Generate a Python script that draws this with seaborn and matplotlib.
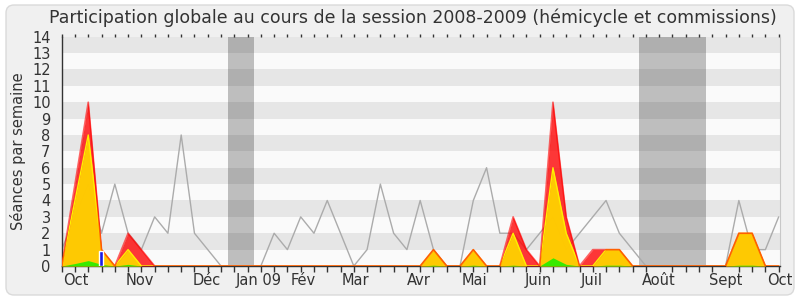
import numpy as np
import matplotlib
matplotlib.use("Agg")
import matplotlib.pyplot as plt
from matplotlib.patches import FancyBboxPatch
import seaborn as sns
import pandas as pd

# ---- data (one value per week, session 2008-2009) ----
weeks = list(range(55))
median_all = [1, 3, 5, 2, 5, 2, 1, 3, 2, 8, 2, 1, 0, 0, 0, 0, 2, 1, 3, 2,
              4, 2, 0, 1, 5, 2, 1, 4, 1, 0, 0, 4, 6, 2, 2, 1, 2, 3, 1, 2,
              3, 4, 2, 1, 0, 0, 0, 0, 0, 0, 0, 4, 1, 1, 3]
total = [0, 5, 10, 1, 0, 2, 1, 0, 0, 0, 0, 0, 0, 0, 0, 0, 0, 0, 0, 0,
         0, 0, 0, 0, 0, 0, 0, 0, 1, 0, 0, 1, 0, 0, 3, 1, 0, 10, 3, 0,
         1, 1, 1, 0, 0, 0, 0, 0, 0, 0, 0, 2, 2, 0, 0]
hemicycle = [0, 4, 8, 1, 0, 1, 0, 0, 0, 0, 0, 0, 0, 0, 0, 0, 0, 0, 0, 0,
             0, 0, 0, 0, 0, 0, 0, 0, 1, 0, 0, 1, 0, 0, 2, 0, 0, 6, 2, 0,
             0, 1, 1, 0, 0, 0, 0, 0, 0, 0, 0, 2, 2, 0, 0]
interventions = [0, 0.15, 0.33, 0.1, 0, 0.1, 0, 0, 0, 0, 0, 0, 0, 0, 0, 0, 0, 0, 0, 0,
                 0, 0, 0, 0, 0, 0, 0, 0, 0.05, 0, 0, 0.05, 0, 0, 0.05, 0, 0, 0.5, 0.1, 0,
                 0, 0.05, 0.05, 0, 0, 0, 0, 0, 0, 0, 0, 0.05, 0.05, 0, 0]
questions_week = [2.95]
questions_val = [0.9]
vacances = [(12.5, 14.5), (43.5, 48.5)]
month_labels = ["Oct", "Nov", "Déc", "Jan 09", "Fév", "Mar", "Avr", "Mai",
                "Juin", "Juil", "Août", "Sept", "Oct"]
month_pos = [1.1, 5.9, 10.9, 14.85, 18.2, 22.1, 26.9, 31.1, 35.9, 39.9, 45.0, 50.0, 54.1]

df = pd.DataFrame({"semaine": weeks, "median": median_all, "total": total,
                   "hemicycle": hemicycle, "interv": interventions})

sns.set_style("white")
plt.rcParams["font.family"] = ["DejaVu Sans"]

fig = plt.figure(figsize=(8, 3), dpi=100)
fig.patch.set_facecolor("white")
frame = FancyBboxPatch((0.06, 0.05), 7.88, 2.9,
                       boxstyle="round,pad=0,rounding_size=0.08",
                       transform=fig.dpi_scale_trans, fc="#F0F0F0", ec="#DADADA",
                       lw=1.0, zorder=-10)
fig.patches.append(frame)

ax = fig.add_axes([61.7 / 800, 1 - 266 / 300, (780 - 61.7) / 800, (266 - 36.7) / 300])
ax.set_facecolor("#FAFAFA")
ax.set_xlim(0, 54)
ax.set_ylim(0, 14)

# horizontal stripes
for k in range(1, 14, 2):
    ax.axhspan(k, k + 1, color="#E6E6E6", lw=0, zorder=0)
# vacations
for a, b in vacances:
    ax.axvspan(a, b, color="black", alpha=0.24, lw=0, zorder=1)

sns.lineplot(data=df, x="semaine", y="median", ax=ax, color="#ABABAB", lw=1.0, zorder=2)

x = df["semaine"].values
ax.fill_between(x, df["total"], color="#FF0000", alpha=0.78, lw=0, zorder=3)
ax.fill_between(x, df["hemicycle"], color="#FFD200", alpha=0.95, lw=0, zorder=4)
ax.plot(x, df["hemicycle"], color="#FFF000", lw=1.0, zorder=5)
ax.fill_between(x, df["interv"], color="#22EE00", alpha=0.9, lw=0, zorder=6)
ax.plot(x, df["total"], color="#FF0000", lw=1.2, alpha=0.6, zorder=7)
ax.bar(questions_week, questions_val, width=0.3, color="#1A1AE6", zorder=8)

# axes styling
ax.spines["top"].set_visible(False)
ax.spines["right"].set_color("#C8C8C8")
ax.spines["left"].set_color("#333333")
ax.spines["bottom"].set_color("#333333")
ax.spines["left"].set_linewidth(1)
ax.spines["bottom"].set_linewidth(1)

ax.set_yticks(range(0, 15))
ax.set_yticklabels([str(v) for v in range(0, 15)], fontsize=10.5, color="#333333")
ax.tick_params(axis="y", length=5, width=1, color="#333333", pad=3, direction="out")

ax.set_xticks(month_pos)
ax.set_xticklabels(month_labels, fontsize=10.5, color="#333333")
ax.tick_params(axis="x", which="major", length=0, pad=5)
ax.set_xticks(weeks, minor=True)
ax.tick_params(axis="x", which="minor", length=4, width=1, color="#333333",
               direction="out", bottom=True, top=False)
# small dotted ticks along the top edge
sec = ax.secondary_xaxis("top")
sec.set_xticks(weeks)
sec.set_xticklabels([])
sec.tick_params(axis="x", length=2, width=1, color="#333333", direction="out")
sec.spines["top"].set_visible(False)

ax.set_xlabel("")
ax.set_ylabel("Séances par semaine", fontsize=10.5, color="#333333", labelpad=4)

fig.text(0.516, 0.94, "Participation globale au cours de la session 2008-2009 (hémicycle et commissions)",
         ha="center", va="center", fontsize=12.5, color="#333333")

fig.savefig("out.png", dpi=100, facecolor=fig.get_facecolor())
